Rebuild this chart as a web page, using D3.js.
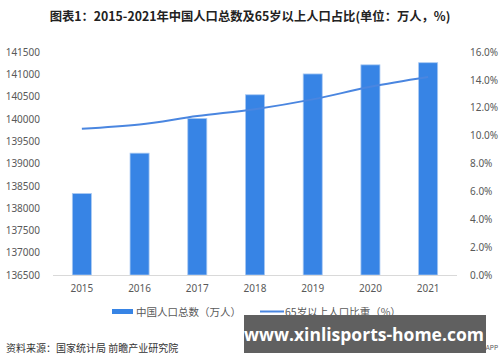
<!DOCTYPE html>
<html lang="zh">
<head>
<meta charset="UTF-8">
<title>2015-2021年中国人口总数及65岁以上人口占比</title>
<script src="https://d3js.org/d3.v7.min.js"></script>
<style>
  body { margin: 0; background: #fff; }
  text { font-family: "Noto Sans CJK SC", "Noto Sans", sans-serif; }
</style>
</head>
<body>
<script>
const years = ["2015", "2016", "2017", "2018", "2019", "2020", "2021"]
const population = [138326, 139232, 140011, 140541, 141008, 141212, 141260]
const elderShare = [10.5, 10.8, 11.4, 11.9, 12.6, 13.5, 14.2]
const leftTicks = d3.range(136500, 141501, 500)
const rightTicks = d3.range(0, 16.01, 2)

const width = 500
const height = 362
const plotLeft = 53, plotRight = 457, plotTop = 52, plotBottom = 275

const svg = d3.select("body").append("svg")
    .attr("width", width)
    .attr("height", height)

svg.append("rect").attr("width", width).attr("height", height).attr("fill", "#fff")

// 标题
svg.append("text")
    .attr("x", 250).attr("y", 21)
    .attr("text-anchor", "middle")
    .attr("font-size", 12.3)
    .attr("font-weight", "bold")
    .attr("fill", "#222")
    .text("图表1：2015-2021年中国人口总数及65岁以上人口占比(单位：万人，%)")

const x = d3.scaleBand().domain(years).range([plotLeft, plotRight]).paddingInner(0.67).paddingOuter(0.335)
const yL = d3.scaleLinear().domain([136500, 141500]).range([plotBottom, plotTop])
const yR = d3.scaleLinear().domain([0, 16]).range([plotBottom, plotTop])

// 左轴
const axisL = svg.append("g")
    .attr("transform", `translate(${plotLeft - 10},0)`)
    .call(d3.axisLeft(yL).tickValues(leftTicks).tickSize(0).tickFormat(d3.format("d")))
axisL.select(".domain").remove()
axisL.selectAll("text").attr("font-size", 10).attr("fill", "#595959")
    .style("font-family", "'Noto Sans', sans-serif")

// 右轴
const axisR = svg.append("g")
    .attr("transform", `translate(${plotRight + 10},0)`)
    .call(d3.axisRight(yR).tickValues(rightTicks).tickSize(0).tickFormat(d => d.toFixed(1) + "%"))
axisR.select(".domain").remove()
axisR.selectAll("text").attr("font-size", 10).attr("fill", "#595959")
    .style("font-family", "'Noto Sans', sans-serif")

// 柱子
svg.selectAll("rect.bar")
    .data(population)
    .enter()
    .append("rect")
    .attr("class", "bar")
    .attr("x", (d, i) => x(years[i]))
    .attr("width", x.bandwidth())
    .attr("y", d => yL(d))
    .attr("height", d => plotBottom - yL(d))
    .attr("fill", "#3784e5")
    .attr("stroke", "#a9c9f2")
    .attr("stroke-width", 0.8)

// X轴
svg.append("line")
    .attr("x1", plotLeft).attr("x2", plotRight)
    .attr("y1", plotBottom + 0.5).attr("y2", plotBottom + 0.5)
    .attr("stroke", "#d9d9d9")

svg.selectAll("text.cat")
    .data(years)
    .enter()
    .append("text")
    .attr("class", "cat")
    .attr("x", d => x(d) + x.bandwidth() / 2)
    .attr("y", 292)
    .attr("text-anchor", "middle")
    .attr("font-size", 10)
    .attr("fill", "#595959")
    .style("font-family", "'Noto Sans', sans-serif")
    .text(d => d)

// 折线
const line = d3.line()
    .x((d, i) => x(years[i]) + x.bandwidth() / 2)
    .y(d => yR(d))
    .curve(d3.curveMonotoneX)

svg.append("path")
    .datum(elderShare)
    .attr("d", line)
    .attr("fill", "none")
    .attr("stroke", "#4a86e0")
    .attr("stroke-width", 2)

// 图例
svg.append("rect").attr("x", 112).attr("y", 309).attr("width", 21).attr("height", 5).attr("fill", "#3784e5")
svg.append("text").attr("x", 136).attr("y", 315.5).attr("font-size", 10.5).attr("fill", "#595959")
    .text("中国人口总数（万人）")
svg.append("line").attr("x1", 260).attr("x2", 284).attr("y1", 311.5).attr("y2", 311.5)
    .attr("stroke", "#4a86e0").attr("stroke-width", 2)
svg.append("text").attr("x", 285).attr("y", 315.5).attr("font-size", 10.5).attr("fill", "#595959")
    .text("65岁以上人口比重（%）")

// 来源
svg.append("text").attr("x", 6).attr("y", 352).attr("font-size", 10).attr("fill", "#333")
    .text("资料来源：国家统计局 前瞻产业研究院")

// 水印框
svg.append("rect").attr("x", 244).attr("y", 315).attr("width", 242).attr("height", 38)
    .attr("fill", "#606060")
svg.append("text").attr("x", 364).attr("y", 340.5).attr("text-anchor", "middle")
    .attr("font-size", 17.5).attr("font-weight", "bold").attr("fill", "#fff")
    .style("font-family", "'Open Sans', 'Noto Sans', sans-serif")
    .text("www.xinlisports-home.com")
svg.append("text").attr("x", 498).attr("y", 350).attr("text-anchor", "end")
    .attr("font-size", 6.5).attr("fill", "#555").text("APP")
</script>
</body>
</html>
